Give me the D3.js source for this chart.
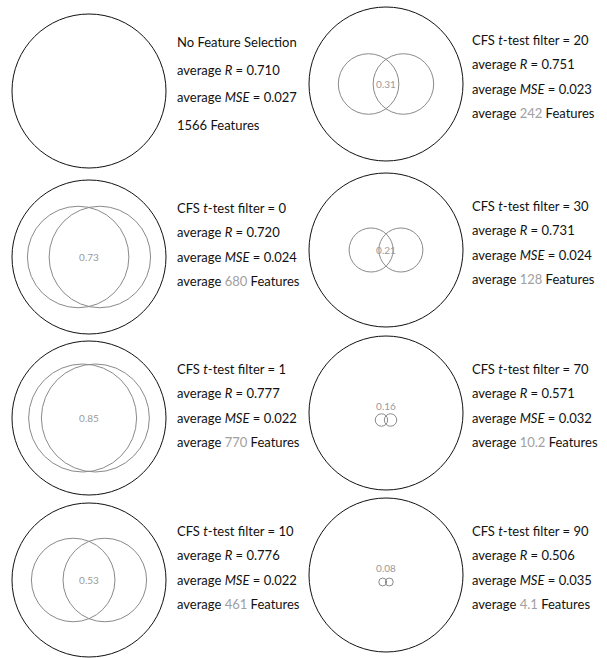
<!DOCTYPE html>
<html>
<head>
<meta charset="utf-8">
<script src="https://cdn.jsdelivr.net/npm/d3@7"></script>
<style>
  body { margin: 0; background: #fff; }
  svg text { font-family: Lato, "Open Sans", sans-serif; }
</style>
</head>
<body>
<svg id="chart" width="607" height="658"></svg>
<script>
// Feature-selection runs: no selection, then CFS with increasing t-test filter
const TOTAL_FEATURES = 1566;
const filterThreshold = [null, 0, 1, 10, 20, 30, 70, 90];
const avgR           = [0.710, 0.720, 0.777, 0.776, 0.751, 0.731, 0.571, 0.506];
const avgMSE         = [0.027, 0.024, 0.022, 0.022, 0.023, 0.024, 0.032, 0.035];
const avgFeatures    = [1566, 680, 770, 461, 242, 128, 10.2, 4.1];
const overlapShare   = [null, 0.73, 0.85, 0.53, 0.31, 0.21, 0.16, 0.08];

// Panel grid: two columns of four
const colCenterX = [89, 386];
const colTextX   = [177, 472];
const rowCenterY = [[91, 257, 418, 580], [84, 250, 413, 575]];
const textOffsetY = [-44, -39];

const svg = d3.select("#chart");

// circle area proportional to feature count
const rScale = d3.scaleSqrt().domain([0, TOTAL_FEATURES]).range([0, 77]);

// share of one circle's area covered by the lens of two equal circles, x = distance / radius
function lensShare(x) {
  if (x >= 2) return 0;
  return (2 * Math.acos(x / 2) - (x / 2) * Math.sqrt(4 - x * x)) / Math.PI;
}
// distance/radius that gives a requested lens share
function separationFor(share) {
  let lo = 0, hi = 2;
  for (let i = 0; i < 60; i++) {
    const mid = (lo + hi) / 2;
    if (lensShare(mid) > share) lo = mid; else hi = mid;
  }
  return (lo + hi) / 2;
}

const panels = filterThreshold.map((t, i) => ({
  threshold: t,
  r: avgR[i],
  mse: avgMSE[i],
  features: avgFeatures[i],
  overlap: overlapShare[i],
  col: Math.floor(i / 4),
  row: i % 4
}));

const g = svg.selectAll("g.panel")
  .data(panels)
  .join("g")
  .attr("class", "panel");

// full feature set
g.append("circle")
  .attr("cx", d => colCenterX[d.col])
  .attr("cy", d => rowCenterY[d.col][d.row])
  .attr("r", rScale(TOTAL_FEATURES))
  .attr("fill", "none")
  .attr("stroke", "#111")
  .attr("stroke-width", 1);

// selected-feature Venn pair
const venn = g.filter(d => d.overlap !== null);
venn.each(function(d) {
  const sel = d3.select(this);
  const cx = colCenterX[d.col];
  const cy = rowCenterY[d.col][d.row];
  const rad = rScale(d.features);
  const dist = separationFor(d.overlap) * rad;
  const small = rad < 10;
  const vy = small ? cy + 7 : cy;
  sel.selectAll("circle.set")
    .data([-1, 1])
    .join("circle")
    .attr("class", "set")
    .attr("cx", s => cx + s * dist / 2)
    .attr("cy", vy)
    .attr("r", rad)
    .attr("fill", "none")
    .attr("stroke", "#8a8a8a")
    .attr("stroke-width", 1);
  sel.append("text")
    .attr("x", cx)
    .attr("y", small ? cy - 7 : vy)
    .attr("dy", "0.35em")
    .attr("text-anchor", "middle")
    .attr("font-size", 10)
    .attr("fill", "#9a9a9a")
    .text(d3.format(".2f")(d.overlap));
});

// statistics text
const fmt3 = d3.format(".3f");
g.each(function(d) {
  const x = colTextX[d.col];
  const y0 = rowCenterY[d.col][d.row] + textOffsetY[d.col];
  const step = d.threshold === null ? 27.7 : 24.3;
  const t = d3.select(this).append("text")
    .attr("font-size", 13)
    .attr("fill", "#111");

  const line = (k) => t.append("tspan").attr("x", x).attr("y", y0 + k * step);

  if (d.threshold === null) {
    line(0).text("No Feature Selection");
  } else {
    const l = line(0).text("CFS ");
    l.append("tspan").attr("font-style", "italic").text("t");
    l.append("tspan").text("-test filter = " + d.threshold);
  }
  const l1 = line(1).text("average ");
  l1.append("tspan").attr("font-style", "italic").text("R");
  l1.append("tspan").text(" = " + fmt3(d.r));

  const l2 = line(2).text("average ");
  l2.append("tspan").attr("font-style", "italic").text("MSE");
  l2.append("tspan").text(" = " + fmt3(d.mse));

  if (d.threshold === null) {
    line(3).text(d.features + " Features");
  } else {
    const l3 = line(3).text("average ");
    l3.append("tspan").attr("fill", "#a0a0a0").text(String(d.features));
    l3.append("tspan").text(" Features");
  }
});
</script>
</body>
</html>
